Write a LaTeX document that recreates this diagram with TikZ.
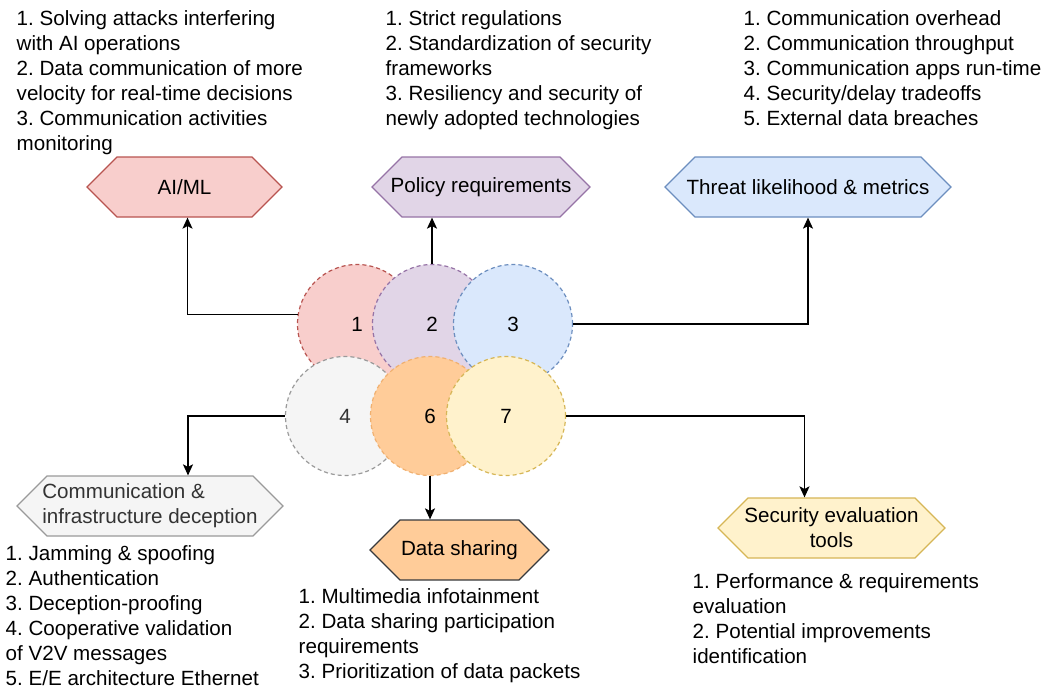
\documentclass[tikz,border=0pt]{standalone}
\usepackage{fontspec}
\setmainfont{Liberation Sans}
\usetikzlibrary{arrows.meta,shapes.symbols}

\definecolor{redfill}{HTML}{F8CECC}
\definecolor{redline}{HTML}{B85450}
\definecolor{purplefill}{HTML}{E1D5E7}
\definecolor{purpleline}{HTML}{9673A6}
\definecolor{bluefill}{HTML}{DAE8FC}
\definecolor{blueline}{HTML}{6C8EBF}
\definecolor{greyfill}{HTML}{F5F5F5}
\definecolor{greyline}{HTML}{9A9A9A}
\definecolor{greytext}{HTML}{333333}
\definecolor{orangefill}{HTML}{FFCC99}
\definecolor{orangeline}{HTML}{F0B070}
\definecolor{orangeedge}{HTML}{36393D}
\definecolor{yellowfill}{HTML}{FFF2CC}
\definecolor{yellowline}{HTML}{D6B656}

\tikzset{
  hexa/.style={signal, signal to=west and east, signal pointer angle=90,
    minimum width=#1, minimum height=60pt, inner ysep=0pt, inner xsep=-26pt,
    line width=1.2pt},
  bubble/.style={circle, minimum size=119pt, line width=1.2pt,
    dash pattern=on 4pt off 3pt},
  listtext/.style={anchor=base west, align=left, inner sep=0pt},
}

\begin{document}
\begin{tikzpicture}[x=1pt,y=-1pt,>={Stealth[length=11pt,width=10pt,inset=2.5pt]},
    line width=1.4pt,font=\fontsize{20.6}{25}\selectfont\frenchspacing]
  \useasboundingbox (0,0) rectangle (1047,688);

  % overlapping bubbles
  \node[bubble,fill=redfill,draw=redline]       (c1) at (357,324) {1};
  \node[bubble,fill=purplefill,draw=purpleline] (c2) at (432,324) {2};
  \node[bubble,fill=bluefill,draw=blueline]     (c3) at (513,324) {3};
  \node[bubble,fill=greyfill,draw=greyline,text=greytext] (c4) at (345,416) {4};
  \node[bubble,fill=orangefill,draw=orangeline] (c6) at (430,416) {6};
  \node[bubble,fill=yellowfill,draw=yellowline] (c7) at (506,416) {7};

  % hexagon labels
  \node[hexa=195pt,fill=redfill,draw=redline]       (aiml)    at (184.5,187) {AI/ML};
  \node[hexa=218pt,fill=purplefill,draw=purpleline] (policy)  at (481,187)   {Policy requirements};
  \node[hexa=286pt,fill=bluefill,draw=blueline]     (threat)  at (808,187)   {Threat likelihood \& metrics};
  \node[hexa=266pt,fill=greyfill,draw=greyline,text=greytext,align=left]
                                                    (comm)    at (150,506)   {Communication \&\\infrastructure deception};
  \node[hexa=179pt,fill=orangefill,draw=orangeedge] (data)    at (459.5,550) {Data sharing};
  \node[hexa=227pt,fill=yellowfill,draw=yellowline,align=center]
                                                    (seceval) at (831.5,528) {Security evaluation\\tools};

  % item lists (anchored on the baseline of their last line)
  \node[listtext] (aimllist) at (16,150) {1. Solving attacks interfering\\with AI operations\\2. Data communication of more\\velocity for real-time decisions\\3. Communication activities\\monitoring};
  \node[listtext] (policylist) at (385,125) {1. Strict regulations\\2. Standardization of security\\frameworks\\3. Resiliency and security of\\newly adopted technologies};
  \node[listtext] (threatlist) at (743,125) {1. Communication overhead\\2. Communication throughput\\3. Communication apps run-time\\4. Security/delay tradeoffs\\5. External data breaches};
  \node[listtext] (commlist) at (5,685) {1. Jamming \& spoofing\\2. Authentication\\3. Deception-proofing\\4. Cooperative validation\\of V2V messages\\5. E/E architecture Ethernet};
  \node[listtext] (datalist) at (298,678) {1. Multimedia infotainment\\2. Data sharing participation\\requirements\\3. Prioritization of data packets};
  \node[listtext] (seclist) at (692,663) {1. Performance \& requirements\\evaluation\\2. Potential improvements\\identification};

  % connectors
  \draw[->] (c1.171) -| ([xshift=3pt]aiml.south);
  \draw[->] (c2.north) -- (c2.north |- policy.south);
  \draw[->] (c3.east) -| (threat.south);
  \draw[->] (c4.west) -| ([xshift=38pt]comm.north);
  \draw[->] (c6.south) -- (c6.south |- data.north);
  \draw[->] (c7.east) -| ([xshift=-27pt]seceval.north);

\end{tikzpicture}
\end{document}
